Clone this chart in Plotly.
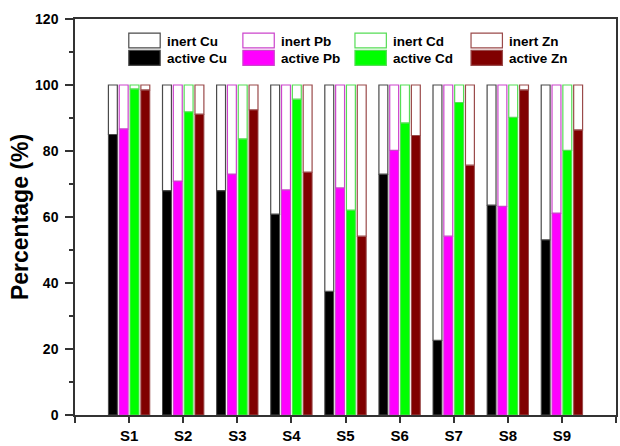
import plotly.graph_objects as go

samples = ["S1", "S2", "S3", "S4", "S5", "S6", "S7", "S8", "S9"]
metals = ["Cu", "Pb", "Cd", "Zn"]
active_cu = [85.0, 68.0, 68.0, 60.9, 37.5, 73.0, 22.6, 63.6, 53.1]
active_pb = [86.7, 70.9, 73.0, 68.2, 68.8, 80.2, 54.2, 63.2, 61.2]
active_cd = [98.8, 91.9, 83.7, 95.7, 62.1, 88.5, 94.7, 90.2, 80.2]
active_zn = [98.5, 91.2, 92.5, 73.6, 54.2, 84.7, 75.7, 98.5, 86.4]
total = 100.0

active = {"Cu": active_cu, "Pb": active_pb, "Cd": active_cd, "Zn": active_zn}
fill_colors = {"Cu": "#000000", "Pb": "#FF00FF", "Cd": "#00FF00", "Zn": "#800000"}
line_colors = {"Cu": "#4a4a4a", "Pb": "#cc44cc", "Cd": "#55dd55", "Zn": "#9a4a4a"}

x_pos = list(range(1, len(samples) + 1))
bar_w = 0.165
centers = [-0.3, -0.1, 0.1, 0.3]

fig = go.Figure()
for m, c in zip(metals, centers):
    vals = active[m]
    fig.add_trace(go.Bar(
        x=x_pos, y=vals, base=[0] * len(vals), width=bar_w, offset=c - bar_w / 2,
        marker=dict(color=fill_colors[m], line=dict(color=line_colors[m], width=1)),
        name="active " + m, showlegend=False))
    fig.add_trace(go.Bar(
        x=x_pos, y=[total - v for v in vals], base=vals, width=bar_w, offset=c - bar_w / 2,
        marker=dict(color="white", line=dict(color=line_colors[m], width=1.2)),
        name="inert " + m, showlegend=False))

# manual legend (pixel layout converted to paper coordinates)
L, R, T, B = 75, 618, 19.3, 418.5
def px(x):
    return (x - L) / (R - L)
def py(y):
    return (B - y) / (B - T)

legend_x = [129, 243.5, 356, 472.5]
font = dict(family="Arial, Liberation Sans, sans-serif", size=13.5, color="black")
for m, lx in zip(metals, legend_x):
    for kind, top, cy in (("inert", 33.5, 41.5), ("active", 51, 59)):
        fig.add_shape(type="rect", xref="paper", yref="paper",
                      x0=px(lx), x1=px(lx + 31.5), y0=py(top + 15), y1=py(top),
                      fillcolor="white" if kind == "inert" else fill_colors[m],
                      line=dict(color=line_colors[m], width=1.2))
        fig.add_annotation(xref="paper", yref="paper", x=px(lx + 36), y=py(cy),
                           text="<b>%s %s</b>" % (kind, m), showarrow=False,
                           xanchor="left", yanchor="middle", font=font)

fig.update_layout(
    width=620, height=446,
    margin=dict(l=L, r=620 - R, t=T, b=446 - B),
    barmode="overlay",
    plot_bgcolor="white", paper_bgcolor="white",
    font=dict(family="Arial, Liberation Sans, sans-serif", color="black"),
    showlegend=False,
)
fig.update_xaxes(
    range=[0, len(samples) + 1],
    tickvals=[0] + x_pos + [len(samples) + 1],
    ticktext=[""] + ["<b>%s</b>" % s for s in samples] + [""],
    ticks="outside", ticklen=6, tickwidth=1.5, tickcolor="#333",
    showline=True, linecolor="#333", linewidth=1.5, mirror=True,
    showgrid=False, zeroline=False,
    tickfont=dict(size=15, color="black"),
)
fig.update_yaxes(
    range=[0, 120], tickvals=[0, 20, 40, 60, 80, 100, 120],
    ticktext=["<b>%d</b>" % v for v in [0, 20, 40, 60, 80, 100, 120]],
    ticks="outside", ticklen=8, tickwidth=1.5, tickcolor="#333",
    ticklabelstandoff=4,
    minor=dict(tickvals=[10, 30, 50, 70, 90, 110], ticks="outside", ticklen=4,
               tickwidth=1.5, tickcolor="#333", showgrid=False),
    showline=True, linecolor="#333", linewidth=1.5, mirror=True,
    showgrid=False, zeroline=False,
    tickfont=dict(size=14, color="black"),
    title=dict(text="<b>Percentage (%)</b>", font=dict(size=23, color="black"), standoff=0),
)

fig.write_html("out.html")
